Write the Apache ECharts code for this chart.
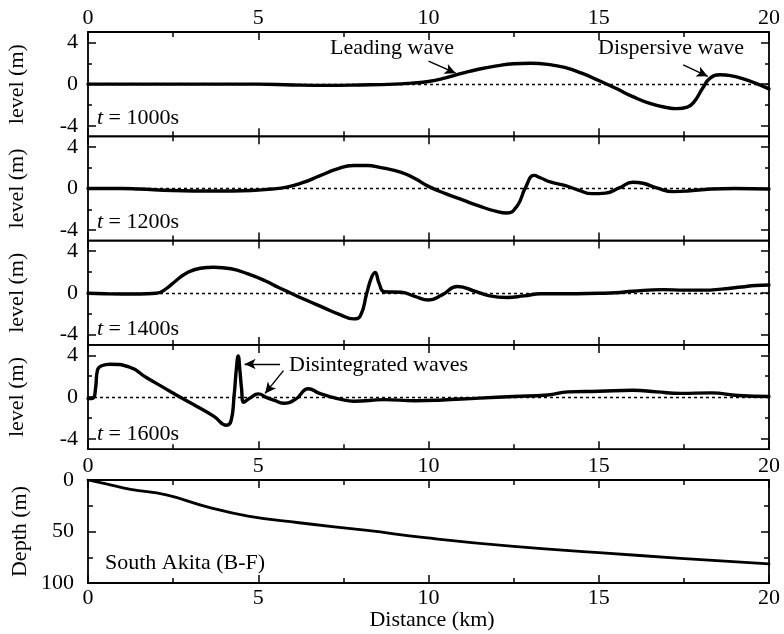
<!DOCTYPE html>
<html>
<head>
<meta charset="utf-8">
<script src="https://cdn.jsdelivr.net/npm/echarts@6/dist/echarts.min.js"></script>
<style>
  html, body { margin: 0; padding: 0; background: #fff; }
  #chart { width: 784px; height: 634px; }
</style>
</head>
<body>
<div id="chart"></div>
<script>
// Axis tick values
const distTicks = [0, 5, 10, 15, 20];
const levelTicks = [-4, 0, 4];
const levelMinorTicks = [-2, 2];
const depthTicks = [0, 50, 100];
const depthMinorTicks = [25, 75];

// Water level profiles (distance in km, level in m)
const dist1000 = [0, 5, 6, 7, 8, 9, 9.5, 10, 10.5, 11, 11.5, 12, 12.5, 13, 13.5, 14, 14.5, 15, 15.5, 16, 16.5, 17, 17.3, 17.6, 17.8, 18.05, 18.27, 18.56, 18.9, 19.2, 19.6, 20];
const level1000 = [0, 0, -0.08, -0.12, -0.08, 0, 0.1, 0.25, 0.6, 1.05, 1.45, 1.75, 1.95, 2.0, 1.9, 1.6, 1.05, 0.35, -0.4, -1.2, -1.85, -2.25, -2.35, -2.2, -1.7, -0.4, 0.57, 0.9, 0.8, 0.55, 0.1, -0.45];

const dist1200 = [0, 1, 1.5, 2.5, 3.7, 4.8, 5.4, 5.8, 6.3, 6.8, 7.3, 7.8, 8.2, 8.6, 9.2, 9.6, 10, 10.5, 11, 11.5, 12, 12.3, 12.6, 12.85, 13.1, 13.3, 13.6, 14, 14.4, 14.8, 15.2, 15.6, 16, 16.3, 16.7, 17.2, 17.6, 18.3, 19, 20];
const level1200 = [0, 0, -0.05, -0.2, -0.25, -0.2, -0.05, 0.1, 0.55, 1.2, 1.85, 2.2, 2.2, 2.0, 1.55, 0.95, 0.2, -0.5, -1.1, -1.7, -2.2, -2.35, -1.7, 0.1, 1.25, 1.0, 0.6, 0.3, -0.15, -0.5, -0.45, 0.05, 0.6, 0.5, 0.05, -0.3, -0.25, -0.05, 0, -0.05];

const dist1400 = [0, 0.5, 1, 1.5, 2, 2.3, 2.6, 2.9, 3.3, 3.7, 4.2, 4.7, 5.2, 5.6, 5.93, 6.4, 6.9, 7.4, 7.8, 8.0, 8.19, 8.32, 8.43, 8.55, 8.7, 9.2, 9.6, 10.0, 10.4, 10.85, 11.4, 11.8, 12.3, 12.8, 13.3, 14, 15, 15.5, 16, 16.9, 17.5, 18.1, 18.6, 19.2, 19.6, 20];
const level1400 = [-0.05, -0.1, -0.12, -0.12, -0.05, 0.4, 1.2, 1.9, 2.35, 2.45, 2.3, 1.8, 1.15, 0.5, 0, -0.7, -1.4, -2.1, -2.5, -2.2, 0, 1.4, 1.95, 0.9, 0.1, 0.05, -0.35, -0.7, -0.2, 0.6, 0.1, -0.3, -0.45, -0.3, -0.1, -0.1, -0.05, 0, 0.15, 0.3, 0.25, 0.25, 0.35, 0.55, 0.7, 0.75];

const dist1600 = [0, 0.15, 0.22, 0.28, 0.4, 0.65, 1.2, 1.7, 2.2, 2.7, 3.2, 3.7, 4.07, 4.2, 4.29, 4.36, 4.41, 4.46, 4.51, 4.57, 4.76, 5.0, 5.25, 5.5, 5.73, 6.1, 6.47, 6.8, 7.1, 7.4, 7.8, 8.7, 9.6, 10.3, 11.5, 12.5, 13.5, 14.1, 15, 16, 16.7, 17.4, 18.3, 19.1, 20];
const level1600 = [-0.15, -0.1, 0.8, 2.6, 3.0, 3.15, 2.9, 1.9, 0.95, 0, -0.9, -1.85, -2.7, -2.3, 0.1, 2.8, 3.95, 2.6, 0.8, -0.5, -0.1, 0.3, -0.05, -0.35, -0.6, -0.2, 0.8, 0.35, 0.05, -0.2, -0.4, -0.25, -0.35, -0.3, -0.1, 0.05, 0.2, 0.5, 0.55, 0.65, 0.5, 0.35, 0.4, 0.15, 0.05];

// Bathymetry along the section
const depthDist = [0, 0.5, 1.25, 2.3, 3.5, 4.7, 6.2, 8.2, 9.9, 12.5, 15, 17.4, 20];
const depthValues = [0, 3.5, 9, 14.5, 26, 35, 41.5, 49, 56, 64.5, 70.5, 76, 81.5];

const timeLabels = ['1000s', '1200s', '1400s', '1600s'];
const profiles = [
  [dist1000, level1000],
  [dist1200, level1200],
  [dist1400, level1400],
  [dist1600, level1600]
];

const FONT = 'Liberation Serif';
const INK = '#000';
const zip = (xs, ys) => xs.map((x, i) => [x, ys[i]]);

const PLOT_LEFT = 88, PLOT_RIGHT = 15;
const PANEL_TOP = 32, PANEL_H = 104.3;
const DEPTH_TOP = 480, DEPTH_H = 103;

const grids = [];
for (let i = 0; i < 4; i++) {
  grids.push({ left: PLOT_LEFT, right: PLOT_RIGHT, top: PANEL_TOP + i * PANEL_H, height: PANEL_H,
    show: true, borderColor: INK, borderWidth: 1.8, backgroundColor: 'transparent' });
}
grids.push({ left: PLOT_LEFT, right: PLOT_RIGHT, top: DEPTH_TOP, height: DEPTH_H,
  show: true, borderColor: INK, borderWidth: 1.8, backgroundColor: 'transparent' });

const tickLine = { color: INK, width: 1.5 };
const labelStyle = { color: INK, fontFamily: FONT, fontSize: 22 };

function xAxisFor(gridIndex, position, showLabel, margin) {
  return {
    type: 'value', gridIndex, position, min: 0, max: 20, interval: 5,
    axisLine: { show: false, onZero: false },
    axisTick: { show: true, inside: true, length: 8, lineStyle: tickLine },
    minorTick: { show: true, splitNumber: 2, length: 5, lineStyle: tickLine },
    axisLabel: Object.assign({ show: showLabel, margin: margin }, labelStyle),
    splitLine: { show: false }, minorSplitLine: { show: false }
  };
}

const xAxes = [];
for (let i = 0; i < 5; i++) {
  const bottomLabel = (i === 3) ? 6 : (i === 4 ? 4 : 0);
  xAxes.push(xAxisFor(i, 'bottom', i === 3 || i === 4, bottomLabel));
  xAxes.push(xAxisFor(i, 'top', i === 0, 3));
}

function yAxisFor(gridIndex, position, min, max, inverse, values, len, showLabel, margin) {
  return {
    type: 'value', gridIndex, position, min, max, inverse,
    axisLine: { show: false, onZero: false },
    axisTick: { show: true, inside: true, length: len, lineStyle: tickLine, customValues: values },
    axisLabel: Object.assign({ show: showLabel, margin: margin, customValues: values }, labelStyle),
    splitLine: { show: false }
  };
}

const yAxes = [];
for (let i = 0; i < 4; i++) {
  yAxes.push(yAxisFor(i, 'left', -5, 5, false, levelTicks, 8, true, 10));
  yAxes.push(yAxisFor(i, 'left', -5, 5, false, levelMinorTicks, 4, false, 10));
  yAxes.push(yAxisFor(i, 'right', -5, 5, false, levelTicks, 8, false, 10));
  yAxes.push(yAxisFor(i, 'right', -5, 5, false, levelMinorTicks, 4, false, 10));
}
yAxes.push(yAxisFor(4, 'left', 0, 100, true, depthTicks, 8, true, 14));
yAxes.push(yAxisFor(4, 'left', 0, 100, true, depthMinorTicks, 5, false, 14));
yAxes.push(yAxisFor(4, 'right', 0, 100, true, depthTicks, 8, false, 10));
yAxes.push(yAxisFor(4, 'right', 0, 100, true, depthMinorTicks, 5, false, 10));

// Annotation arrows, in data coordinates [km, m]
const arrowStyle = { type: 'solid', color: INK, width: 1.4 };
function arrow(from, to) {
  return [
    { coord: from, symbol: 'none', lineStyle: arrowStyle },
    { coord: to, symbol: 'arrow', symbolSize: [8, 11], lineStyle: arrowStyle }
  ];
}
const panelArrows = [
  [arrow([10.0, 2.2], [10.8, 1.05]), arrow([17.48, 1.85], [18.2, 0.75])],
  [],
  [],
  [arrow([5.64, 3.17], [4.6, 3.17]), arrow([5.74, 2.53], [5.2, 0.35])]
];

const series = [];
profiles.forEach(([xs, ys], i) => {
  series.push({
    type: 'line', xAxisIndex: 2 * i, yAxisIndex: 4 * i,
    data: zip(xs, ys), showSymbol: false, smooth: 0.5,
    lineStyle: { color: INK, width: 3.4, cap: 'round', join: 'round' },
    markLine: {
      silent: true, animation: false, symbol: 'none', label: { show: false },
      lineStyle: { type: [3, 3], color: INK, width: 1.4 },
      emphasis: { disabled: true },
      data: [{ yAxis: 0 }].concat(panelArrows[i])
    },
    z: 3
  });
});
series.push({
  type: 'line', xAxisIndex: 8, yAxisIndex: 16,
  data: zip(depthDist, depthValues), showSymbol: false, smooth: 0.5,
  lineStyle: { color: INK, width: 2.8, cap: 'round', join: 'round' }, z: 3
});

// Text annotations
const textBase = { fill: INK, fontFamily: FONT, fontSize: 22 };
const graphics = [];
const timeLabelY = [118, 222, 329, 434];
timeLabels.forEach((t, i) => {
  graphics.push({
    type: 'text', x: 97, y: timeLabelY[i],
    style: Object.assign({
      text: '{i|t} = ' + t, align: 'left', verticalAlign: 'middle',
      rich: { i: { fontStyle: 'italic', fontFamily: FONT, fontSize: 22, fill: INK } }
    }, textBase)
  });
  graphics.push({
    type: 'text', x: 17, y: PANEL_TOP + (i + 0.5) * PANEL_H, rotation: Math.PI / 2,
    style: Object.assign({ text: 'level (m)', align: 'center', verticalAlign: 'middle' }, textBase)
  });
});
graphics.push({ type: 'text', x: 20, y: DEPTH_TOP + DEPTH_H / 2, rotation: Math.PI / 2,
  style: Object.assign({ text: 'Depth (m)', align: 'center', verticalAlign: 'middle' }, textBase) });
graphics.push({ type: 'text', x: 330, y: 48,
  style: Object.assign({ text: 'Leading wave', align: 'left', verticalAlign: 'middle' }, textBase) });
graphics.push({ type: 'text', x: 598, y: 48,
  style: Object.assign({ text: 'Dispersive wave', align: 'left', verticalAlign: 'middle' }, textBase) });
graphics.push({ type: 'text', x: 289, y: 365,
  style: Object.assign({ text: 'Disintegrated waves', align: 'left', verticalAlign: 'middle' }, textBase) });
graphics.push({ type: 'text', x: 105, y: 563,
  style: Object.assign({ text: 'South Akita (B-F)', align: 'left', verticalAlign: 'middle' }, textBase) });
graphics.push({ type: 'text', x: 432, y: 620,
  style: Object.assign({ text: 'Distance (km)', align: 'center', verticalAlign: 'middle' }, textBase) });

const chart = echarts.init(document.getElementById('chart'), null, { renderer: 'canvas' });
chart.setOption({
  animation: false,
  backgroundColor: '#fff',
  grid: grids,
  xAxis: xAxes,
  yAxis: yAxes,
  series: series,
  graphic: graphics
});
</script>
</body>
</html>
